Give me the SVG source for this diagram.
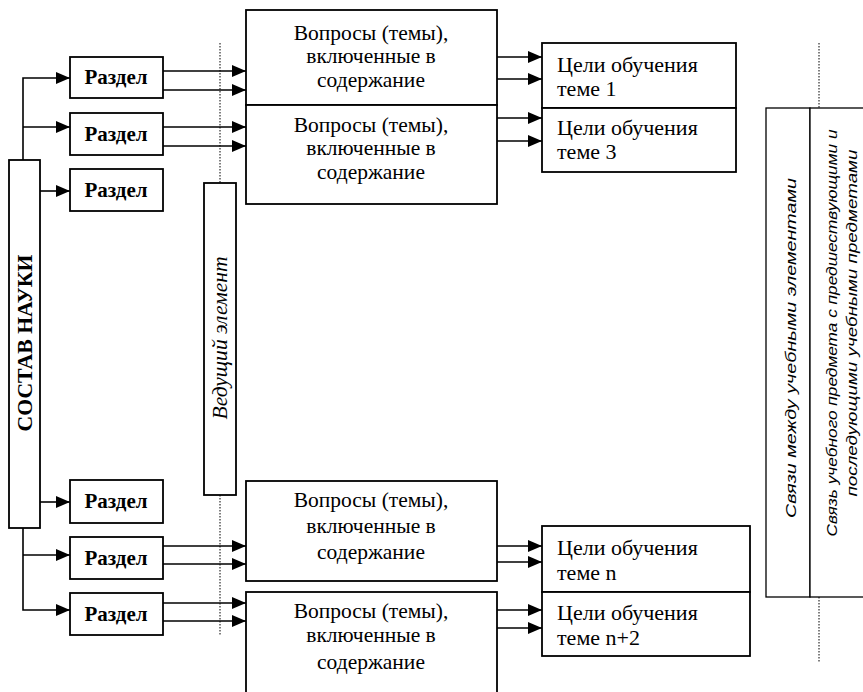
<svg xmlns="http://www.w3.org/2000/svg" width="863" height="692" viewBox="0 0 863 692">
<defs>
<style>
.box{fill:#fff;stroke:#000;stroke-width:1.8}
.thin{fill:#fff;stroke:#000;stroke-width:1.3}
.con{fill:none;stroke:#000;stroke-width:1.6}
.arr{marker-end:url(#ah)}
.dot{fill:none;stroke:#000;stroke-width:1;stroke-dasharray:1.5 1.5}
.sec{font-family:"Liberation Serif",serif;font-weight:bold;font-size:21px;text-anchor:middle}
.q{font-family:"Liberation Serif",serif;font-size:21.5px;text-anchor:middle}
.g{font-family:"Liberation Serif",serif;font-size:22px}
.vb{font-family:"Liberation Serif",serif;font-weight:bold;font-size:20px;text-anchor:middle}
.vi{font-family:"Liberation Serif",serif;font-style:italic;font-size:20px;text-anchor:middle}
.hw{font-family:"Liberation Sans",sans-serif;font-style:italic;font-size:14px;text-anchor:middle}
</style>
<marker id="ah" markerUnits="userSpaceOnUse" markerWidth="14" markerHeight="12" refX="14" refY="6" orient="auto">
<path d="M0,0 L14,6 L0,12 z" fill="#000"/>
</marker>
</defs>
<rect width="863" height="692" fill="#fff"/>

<g id="connectors">
<path class="con arr" d="M23,160 L23,78 L70,78"/>
<path class="con arr" d="M23,127 L70,127"/>
<path class="con arr" d="M40,191 L70,191"/>
<path class="con arr" d="M40,502 L70,502"/>
<path class="con arr" d="M23,528 L23,610 L70,610"/>
<path class="con arr" d="M23,555 L70,555"/>
<path class="con arr" d="M163,71 L246,71"/>
<path class="con arr" d="M163,90 L246,90"/>
<path class="con arr" d="M163,127 L246,127"/>
<path class="con arr" d="M163,146 L246,146"/>
<path class="con arr" d="M163,546 L246,546"/>
<path class="con arr" d="M163,564 L246,564"/>
<path class="con arr" d="M163,603 L246,603"/>
<path class="con arr" d="M163,621 L246,621"/>
<path class="con arr" d="M497,57 L542,57"/>
<path class="con arr" d="M497,79 L542,79"/>
<path class="con arr" d="M497,118 L542,118"/>
<path class="con arr" d="M497,141 L542,141"/>
<path class="con arr" d="M497,546 L542,546"/>
<path class="con arr" d="M497,562 L542,562"/>
<path class="con arr" d="M497,610 L542,610"/>
<path class="con arr" d="M497,628 L542,628"/>
<path class="dot" d="M220,43 L220,183 M220,495 L220,635 M819,43 L819,108 M819,597 L819,662"/>
</g>

<g id="sostav"><rect class="box" x="9" y="160" width="31" height="368"/>
<text class="vb" transform="translate(32,343) rotate(-90)" textLength="177" lengthAdjust="spacingAndGlyphs">СОСТАВ НАУКИ</text></g>

<g id="razdel1"><rect class="box" x="70" y="57" width="93" height="41"/><text class="sec" x="116" y="84">Раздел</text></g>
<g id="razdel2"><rect class="box" x="70" y="113" width="93" height="42"/><text class="sec" x="116" y="141">Раздел</text></g>
<g id="razdel3"><rect class="box" x="70" y="169" width="93" height="42"/><text class="sec" x="116" y="197">Раздел</text></g>
<g id="razdel4"><rect class="box" x="70" y="480" width="93" height="43"/><text class="sec" x="116" y="508">Раздел</text></g>
<g id="razdel5"><rect class="box" x="70" y="537" width="93" height="42"/><text class="sec" x="116" y="565">Раздел</text></g>
<g id="razdel6"><rect class="box" x="70" y="593" width="93" height="42"/><text class="sec" x="116" y="621">Раздел</text></g>

<g id="vedushchiy"><rect class="box" x="204" y="183" width="32" height="312"/>
<text class="vi" transform="translate(227,338) rotate(-90)" textLength="163" lengthAdjust="spacingAndGlyphs">Ведущий элемент</text></g>

<g id="voprosy1"><rect class="box" x="246" y="10" width="251" height="95"/>
<text class="q" x="371" y="40">Вопросы (темы),</text><text class="q" x="371" y="63">включенные в</text><text class="q" x="371" y="87">содержание</text></g>
<g id="voprosy2"><rect class="box" x="246" y="105" width="251" height="99"/>
<text class="q" x="371" y="132">Вопросы (темы),</text><text class="q" x="371" y="155">включенные в</text><text class="q" x="371" y="179">содержание</text></g>
<g id="voprosy3"><rect class="box" x="246" y="481" width="251" height="100"/>
<text class="q" x="371" y="507">Вопросы (темы),</text><text class="q" x="371" y="533">включенные в</text><text class="q" x="371" y="559">содержание</text></g>
<g id="voprosy4"><rect class="box" x="246" y="592" width="251" height="110"/>
<text class="q" x="371" y="618">Вопросы (темы),</text><text class="q" x="371" y="642">включенные в</text><text class="q" x="371" y="669">содержание</text></g>

<g id="celi1"><rect class="box" x="542" y="43" width="194" height="65"/>
<text class="g" x="557" y="72">Цели обучения</text><text class="g" x="557" y="96">теме 1</text></g>
<g id="celi3"><rect class="box" x="542" y="108" width="194" height="64"/>
<text class="g" x="557" y="135">Цели обучения</text><text class="g" x="557" y="159">теме 3</text></g>
<g id="celin"><rect class="box" x="542" y="526" width="208" height="66"/>
<text class="g" x="557" y="555">Цели обучения</text><text class="g" x="557" y="580">теме n</text></g>
<g id="celin2"><rect class="box" x="542" y="592" width="208" height="64"/>
<text class="g" x="557" y="620">Цели обучения</text><text class="g" x="557" y="645">теме n+2</text></g>

<g id="svyazi"><rect class="thin" x="766" y="108" width="44" height="489"/>
<text class="hw" transform="translate(796,348) rotate(-90)" textLength="340" lengthAdjust="spacingAndGlyphs">Связи между учебными элементами</text></g>
<g id="svyaz-predmeta"><rect class="thin" x="810" y="108" width="60" height="489"/>
<text class="hw" transform="translate(837,333) rotate(-90)" textLength="407" lengthAdjust="spacingAndGlyphs">Связь учебного предмета с предшествующими и</text>
<text class="hw" transform="translate(857,323) rotate(-90)" textLength="347" lengthAdjust="spacingAndGlyphs">последующими учебными предметами</text></g>
</svg>
